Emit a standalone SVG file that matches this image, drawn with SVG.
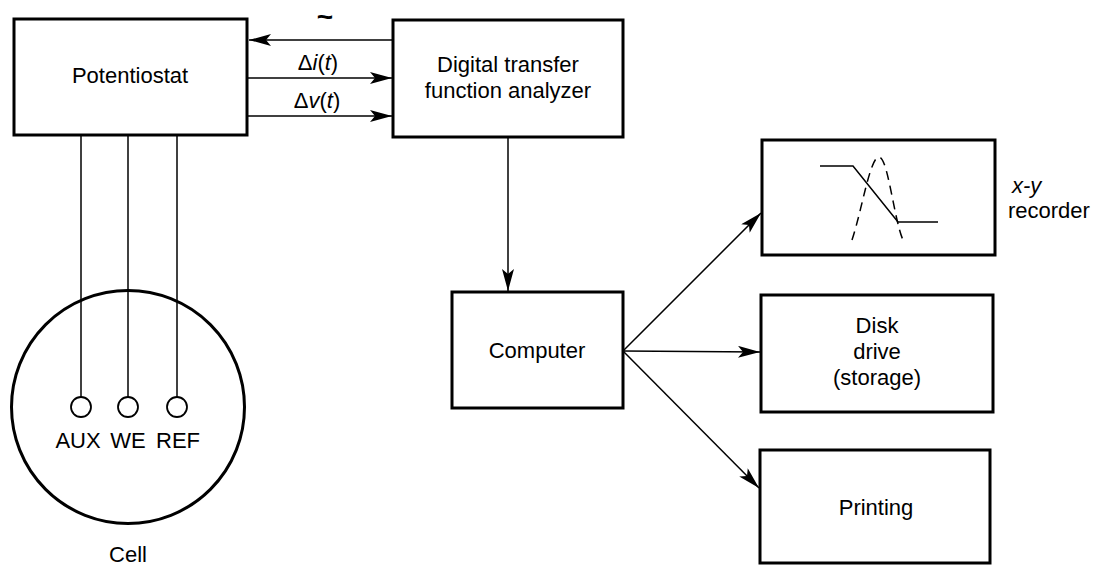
<svg xmlns="http://www.w3.org/2000/svg" width="1099" height="565" viewBox="0 0 1099 565">
<style>
.box{fill:#fff;stroke:#000;stroke-width:3}
.ln{fill:none;stroke:#000;stroke-width:1.5}
.t{font-family:"Liberation Sans",Arial,sans-serif;font-size:22px;fill:#000;text-anchor:middle}
.s{text-anchor:start}
.it{font-style:italic}
.big{font-size:28px;font-weight:bold}
</style>
<defs>
<marker id="ah" viewBox="0 0 22 12" refX="22" refY="6" markerWidth="22" markerHeight="12" markerUnits="userSpaceOnUse" orient="auto">
<path d="M0,0 L22,6 L0,12 L5,6 z" fill="#000"/>
</marker>
</defs>
<rect width="1099" height="565" fill="#fff"/>
<g id="connectors">
<line class="ln" x1="393" y1="40" x2="249" y2="40" marker-end="url(#ah)"/>
<line class="ln" x1="247" y1="78" x2="392" y2="78" marker-end="url(#ah)"/>
<line class="ln" x1="247" y1="116" x2="392" y2="116" marker-end="url(#ah)"/>
<line class="ln" x1="81" y1="135" x2="81" y2="397"/>
<line class="ln" x1="128" y1="135" x2="128" y2="397"/>
<line class="ln" x1="177" y1="135" x2="177" y2="397"/>
<line class="ln" x1="508" y1="137" x2="508" y2="291" marker-end="url(#ah)"/>
<line class="ln" x1="623" y1="351" x2="761" y2="213" marker-end="url(#ah)"/>
<line class="ln" x1="623" y1="351" x2="760" y2="352" marker-end="url(#ah)"/>
<line class="ln" x1="623" y1="351" x2="759" y2="488" marker-end="url(#ah)"/>
<text class="t big" x="325" y="26">~</text>
<text class="t" x="318" y="70"><tspan>Δ</tspan><tspan class="it">i</tspan>(<tspan class="it">t</tspan>)</text>
<text class="t" x="317" y="108"><tspan>Δ</tspan><tspan class="it">v</tspan>(<tspan class="it">t</tspan>)</text>
</g>
<g id="potentiostat">
<rect class="box" x="14" y="19" width="233" height="116"/>
<text class="t" x="130" y="83">Potentiostat</text>
</g>
<g id="analyzer">
<rect class="box" x="393" y="20" width="230" height="117"/>
<text class="t" x="508" y="72">Digital transfer</text>
<text class="t" x="508" y="98">function analyzer</text>
</g>
<g id="cell">
<circle cx="128" cy="407" r="116.5" fill="none" stroke="#000" stroke-width="3"/>
<circle cx="81" cy="407" r="10" fill="#fff" stroke="#000" stroke-width="1.8"/>
<circle cx="128" cy="407" r="10" fill="#fff" stroke="#000" stroke-width="1.8"/>
<circle cx="177" cy="407" r="10" fill="#fff" stroke="#000" stroke-width="1.8"/>
<text class="t" x="78" y="448">AUX</text>
<text class="t" x="128" y="448">WE</text>
<text class="t" x="178" y="448">REF</text>
<text class="t" x="128" y="562">Cell</text>
</g>
<g id="computer">
<rect class="box" x="452" y="292" width="171" height="116"/>
<text class="t" x="537" y="358">Computer</text>
</g>
<g id="recorder">
<rect class="box" x="762" y="140" width="233" height="115"/>
<path class="ln" d="M820,166 L853,166 L898,222 L938,222" stroke-width="2"/>
<path class="ln" d="M852,240 C862,210 870,157 879,157 C888,157 894,220 903,240" stroke-dasharray="9,6" stroke-width="1.8"/>
<text class="t s it" x="1012" y="193">x-y</text>
<text class="t s" x="1008" y="218">recorder</text>
</g>
<g id="disk">
<rect class="box" x="761" y="295" width="232" height="117"/>
<text class="t" x="877" y="333">Disk</text>
<text class="t" x="877" y="359">drive</text>
<text class="t" x="877" y="385">(storage)</text>
</g>
<g id="printing">
<rect class="box" x="760" y="450" width="230" height="113"/>
<text class="t" x="876" y="515">Printing</text>
</g>
</svg>
